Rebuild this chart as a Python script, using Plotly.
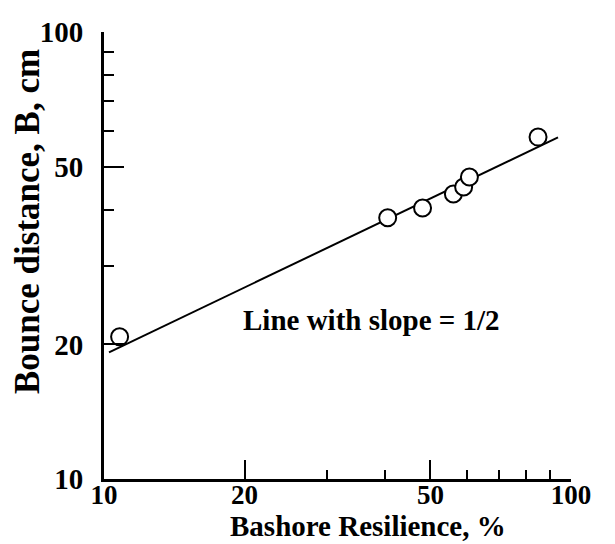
import plotly.graph_objects as go

# Data
resilience = [10.8, 40.5, 48.1, 56.0, 58.9, 60.6, 85.0]
bounce = [20.8, 38.4, 40.4, 43.4, 45.0, 47.4, 58.2]

# Line with slope 1/2 (end points)
fit_x = [10.25, 93.8]
fit_y = [19.2, 58.1]

x_major = [10, 20, 50, 100]
x_minor = [30, 40, 60, 70, 80, 90]
y_major = [10, 20, 50, 100]
y_minor = [30, 40, 60, 70, 80, 90]

x_title = "Bashore Resilience, %"
y_title = "Bounce distance, B, cm"
note = "Line with slope = 1/2"

FONT = "Liberation Serif"

fig = go.Figure()
fig.add_trace(go.Scatter(x=fit_x, y=fit_y, mode="lines",
                         line=dict(color="black", width=2), showlegend=False))
fig.add_trace(go.Scatter(x=resilience, y=bounce, mode="markers",
                         marker=dict(symbol="circle", size=17, color="white",
                                     line=dict(color="black", width=2)),
                         showlegend=False))

fig.update_layout(
    width=615, height=544,
    margin=dict(l=104, r=44, t=32, b=65),
    paper_bgcolor="white", plot_bgcolor="white",
    font=dict(family=FONT, color="black"),
    xaxis=dict(
        type="log", range=[1, 2], automargin=False,
        tickmode="array", tickvals=x_major, ticktext=[str(v) for v in x_major],
        ticks="inside", ticklen=19, tickwidth=2, tickcolor="black",
        minor=dict(tickmode="array", tickvals=x_minor, ticks="inside",
                   ticklen=9, tickwidth=2, tickcolor="black", showgrid=False),
        showline=True, linecolor="black", linewidth=3, mirror=False,
        showgrid=False, zeroline=False,
        tickfont=dict(family=FONT, size=27, color="black", weight="bold"),
        ticklabelstandoff=-10,
    ),
    yaxis=dict(
        type="log", range=[1, 2], automargin=False,
        tickmode="array", tickvals=y_major, ticktext=[str(v) for v in y_major],
        ticks="inside", ticklen=20, tickwidth=2, tickcolor="black",
        minor=dict(tickmode="array", tickvals=y_minor, ticks="inside",
                   ticklen=10, tickwidth=2, tickcolor="black", showgrid=False),
        showline=True, linecolor="black", linewidth=3, mirror=False,
        showgrid=False, zeroline=False,
        tickfont=dict(family=FONT, size=29, color="black", weight="bold"),
        ticklabelstandoff=12,
    ),
    annotations=[
        dict(text="<b>%s</b>" % note, xref="paper", yref="paper",
             x=0.573, y=0.355, xanchor="center", yanchor="middle",
             showarrow=False, font=dict(family=FONT, size=29, color="black")),
        dict(text="<b>%s</b>" % x_title, xref="paper", yref="paper",
             x=(368 - 104) / 467, y=(479 - 544) / 447,
             xanchor="center", yanchor="bottom", showarrow=False,
             font=dict(family=FONT, size=29, color="black")),
        dict(text="<b>%s</b>" % y_title, xref="paper", yref="paper",
             x=(27 - 104) / 467, y=(479 - 222) / 447, textangle=-90,
             xanchor="center", yanchor="middle", showarrow=False,
             font=dict(family=FONT, size=35, color="black")),
    ],
)

fig.write_html("out.html")
